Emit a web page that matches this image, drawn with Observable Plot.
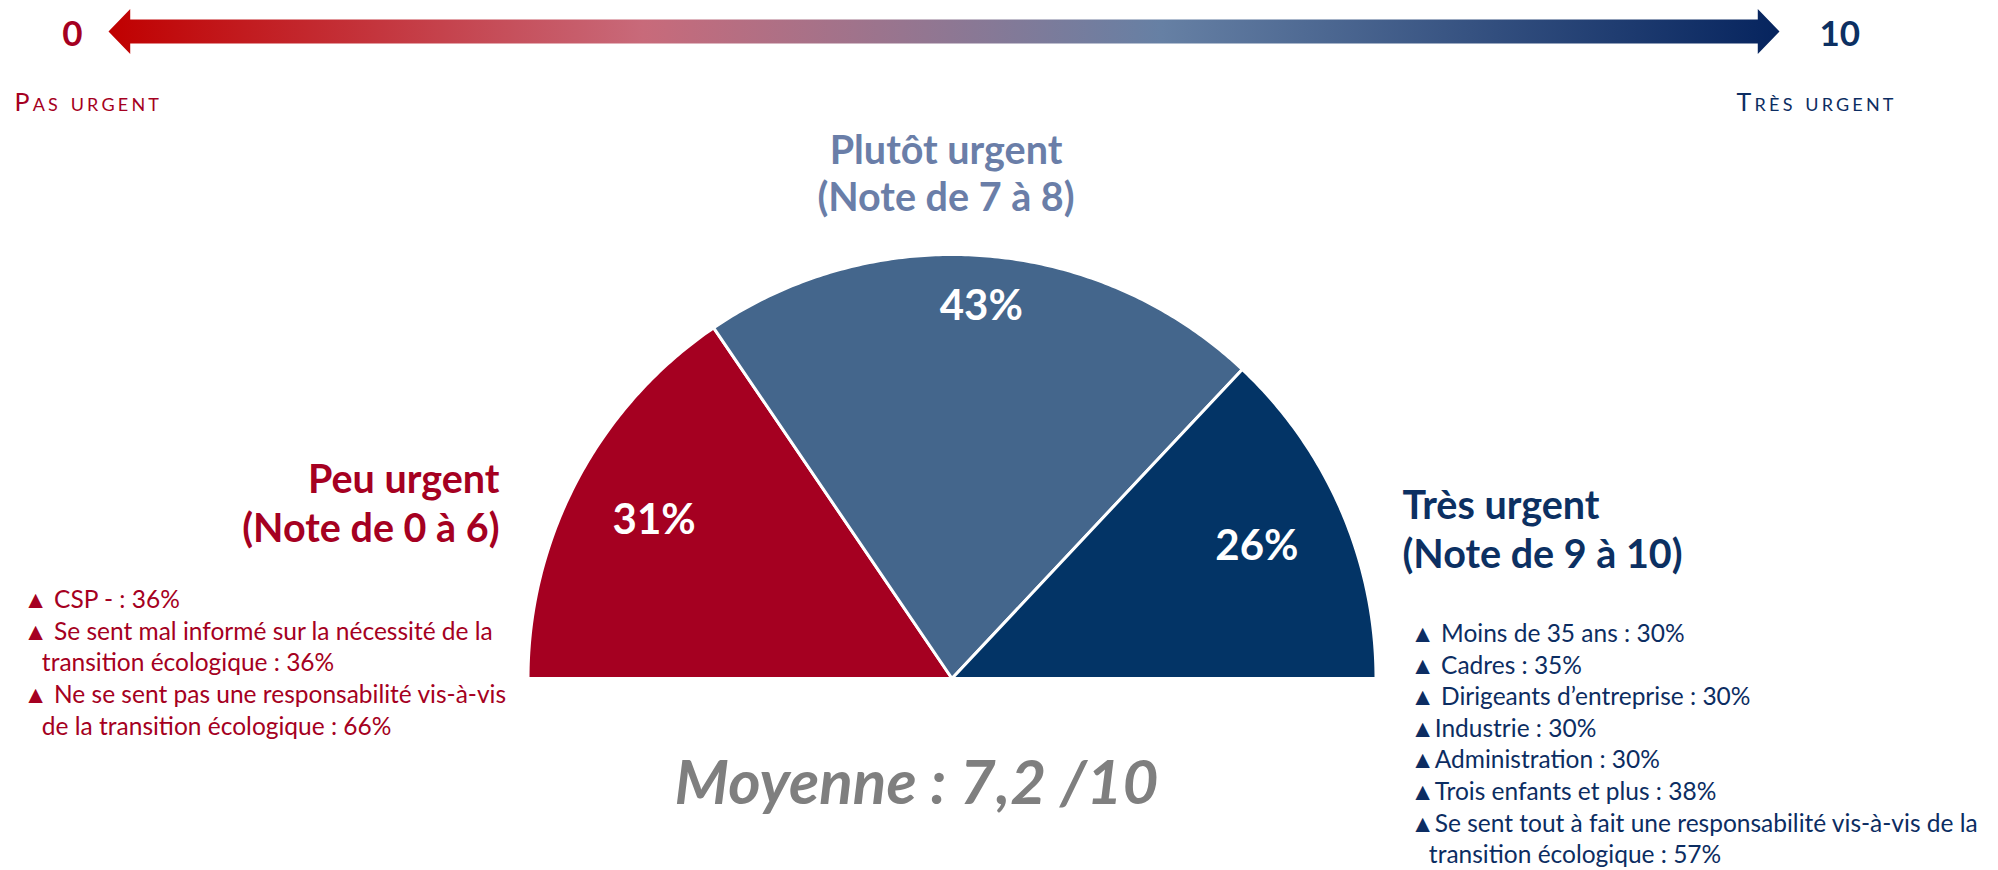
<!DOCTYPE html>
<html><head><meta charset="utf-8">
<script src="https://cdn.jsdelivr.net/npm/d3@7"></script>
<script src="https://cdn.jsdelivr.net/npm/@observablehq/plot@0.6"></script>
<style>
html,body{margin:0;padding:0;background:#fff;}
#chart{width:1998px;height:870px;overflow:hidden;background:#fff;}
#chart svg{display:block;}
</style></head><body><div id="chart"></div>
<script>
// ---- data ----
const categories = ["Peu urgent", "Plutôt urgent", "Très urgent"];
const noteRanges = ["(Note de 0 à 6)", "(Note de 7 à 8)", "(Note de 9 à 10)"];
const shares = [31, 43, 26];
const sliceColors = ["#A50021", "#44668C", "#033466"];
const titleColors = ["#A50021", "#6A7EA8", "#0C3062"];
const scaleEnds = [0, 10];
const scaleEndNames = ["Pas urgent", "Très urgent"];
const averageText = "Moyenne : 7,2 /10";
const peuUrgentHighlights = [
  "▲ CSP - : 36%",
  "▲ Se sent mal informé sur la nécessité de la",
  "\u2003transition écologique : 36%",
  "▲ Ne se sent pas une responsabilité vis-à-vis",
  "\u2003de la transition écologique : 66%"
];
const tresUrgentHighlights = [
  "▲ Moins de 35 ans : 30%",
  "▲ Cadres : 35%",
  "▲ Dirigeants d’entreprise : 30%",
  "▲Industrie : 30%",
  "▲Administration : 30%",
  "▲Trois enfants et plus : 38%",
  "▲Se sent tout à fait une responsabilité vis-à-vis de la",
  "\u2003transition écologique : 57%"
];

// ---- layout ----
const W = 1998, HA = 118, HB = 752;
const CX = 951.5, CY = 560, R = 424;
const FONT = "Lato, 'Open Sans', sans-serif";
const TITLE_FS = 39.5, LIST_FS = 24.5, CAPS_FS = 25, CAPS_SPACING = 3.2;

// ---- top: 0 -> 10 gradient scale arrow ----
const [lo, hi] = scaleEnds;
const headLen = 0.13, barHalf = 0.53;
const arrowOutline = [
  [lo, 0], [lo + headLen, 1], [lo + headLen, barHalf], [hi - headLen, barHalf], [hi - headLen, 1],
  [hi, 0], [hi - headLen, -1], [hi - headLen, -barHalf], [lo + headLen, -barHalf], [lo + headLen, -1]
].map(([x, y]) => ({x, y}));

const gradientDefs = () => {
  const defs = d3.create("svg:defs");
  const g = defs.append("linearGradient").attr("id", "noteGradient")
    .attr("x1", 0).attr("x2", 1).attr("y1", 0).attr("y2", 0);
  [[0, "#C00000"], [0.32, "#C86A7A"], [0.63, "#6680A4"], [1, "#06245E"]]
    .forEach(([o, c]) => g.append("stop").attr("offset", o).attr("stop-color", c));
  return defs.node();
};

const scalePlot = Plot.plot({
  width: W, height: HA, margin: 0,
  x: {domain: scaleEnds, range: [108, 1779], axis: null},
  y: {domain: [-1, 1], range: [53.5, 8.5], axis: null},
  style: {fontFamily: FONT, background: "white"},
  marks: [
    gradientDefs,
    Plot.line(arrowOutline, {x: "x", y: "y", fill: "url(#noteGradient)", stroke: "none", curve: "linear-closed"}),
    Plot.text([scaleEnds[0]], {x: d => d, y: 0, text: d => String(d), textAnchor: "end", dx: -26, dy: 3,
      fontSize: 35, fontWeight: "bold", fill: titleColors[0]}),
    Plot.text([scaleEnds[1]], {x: d => d, y: 0, text: d => String(d), textAnchor: "start", dx: 40, dy: 3,
      fontSize: 35, fontWeight: "bold", fill: titleColors[2]}),
    Plot.text([scaleEndNames[0]], {frameAnchor: "top-left", dx: 14, dy: 110 - 0.71 * CAPS_FS, text: d => d, textAnchor: "start",
      lineAnchor: "top", fontSize: CAPS_FS, fontVariant: "small-caps", fill: "#A50021"}),
    Plot.text([scaleEndNames[1]], {frameAnchor: "top-left", dx: 1893 + CAPS_SPACING, dy: 110 - 0.71 * CAPS_FS, text: d => d, textAnchor: "end",
      lineAnchor: "top", fontSize: CAPS_FS, fontVariant: "small-caps", fill: "#0C2D62"})
  ]
});
d3.select(scalePlot).selectAll("text")
  .filter(function () { return scaleEndNames.includes(this.textContent); })
  .attr("letter-spacing", CAPS_SPACING);

// ---- bottom: semi-pie ----
const total = d3.sum(shares);
const wedgePoints = [];
const labelData = [];
let acc = 0;
shares.forEach((v, i) => {
  const a0 = Math.PI * (1 - acc / total);
  const a1 = Math.PI * (1 - (acc + v) / total);
  const cat = categories[i];
  wedgePoints.push({cat, x: 0, y: 0});
  const steps = Math.max(2, Math.ceil(Math.abs(a0 - a1) / (Math.PI / 360)));
  for (let k = 0; k <= steps; k++) {
    const a = a0 + (a1 - a0) * k / steps;
    wedgePoints.push({cat, x: Math.cos(a), y: Math.sin(a)});
  }
  const am = (a0 + a1) / 2;
  const k = 0.72 + 0.16 * Math.sin(am); // labels sit further out near the top of the arc
  labelData.push({text: v + "%", x: k * Math.cos(am), y: k * Math.sin(am)});
  acc += v;
});

const off = CY - 548; // vertical shift of the lower panel relative to the page
const piePlot = Plot.plot({
  width: W, height: HB, margin: 0,
  x: {domain: [-CX / R, (W - CX) / R], axis: null},
  y: {domain: [-(HB - CY) / R, CY / R], axis: null},
  color: {domain: categories, range: sliceColors},
  style: {fontFamily: FONT, background: "white"},
  marks: [
    Plot.line(wedgePoints, {x: "x", y: "y", z: "cat", fill: "cat", stroke: "white", strokeWidth: 3,
      strokeLinejoin: "round", curve: "linear-closed"}),
    Plot.text(labelData, {x: "x", y: "y", text: "text", fill: "white", fontSize: 42, fontWeight: "bold"}),
    // category titles
    Plot.text([categories[0] + "\n" + noteRanges[0]], {frameAnchor: "top-left", dx: 499, dy: 328 + off, text: d => d,
      textAnchor: "end", lineAnchor: "top", lineHeight: 49 / TITLE_FS, fontSize: TITLE_FS, fontWeight: "bold", fill: titleColors[0]}),
    Plot.text([categories[1] + "\n" + noteRanges[1]], {frameAnchor: "top-left", dx: 945.5, dy: 0 + off, text: d => d,
      textAnchor: "middle", lineAnchor: "top", lineHeight: 47 / TITLE_FS, fontSize: TITLE_FS, fontWeight: "bold", fill: titleColors[1]}),
    Plot.text([categories[2] + "\n" + noteRanges[2]], {frameAnchor: "top-left", dx: 1402, dy: 354 + off, text: d => d,
      textAnchor: "start", lineAnchor: "top", lineHeight: 49 / TITLE_FS, fontSize: TITLE_FS, fontWeight: "bold", fill: titleColors[2]}),
    // highlight lists
    Plot.text([peuUrgentHighlights.join("\n")], {frameAnchor: "top-left", dx: 23, dy: 455 + off, text: d => d,
      textAnchor: "start", lineAnchor: "top", lineHeight: 31.7 / LIST_FS, fontSize: LIST_FS, fill: "#A50021"}),
    Plot.text([tresUrgentHighlights.join("\n")], {frameAnchor: "top-left", dx: 1410, dy: 489 + off, text: d => d,
      textAnchor: "start", lineAnchor: "top", lineHeight: 31.6 / LIST_FS, fontSize: LIST_FS, fill: "#0C2D62"}),
    // average
    Plot.text([averageText], {frameAnchor: "top-left", dx: 916, dy: 629 + off, text: d => d, textAnchor: "middle",
      lineAnchor: "top", fontSize: 62, fontWeight: "bold", fontStyle: "italic", fill: "#7F7F7F"})
  ]
});

const chart = document.getElementById("chart");
chart.appendChild(scalePlot);
chart.appendChild(piePlot);
</script>
</body></html>
